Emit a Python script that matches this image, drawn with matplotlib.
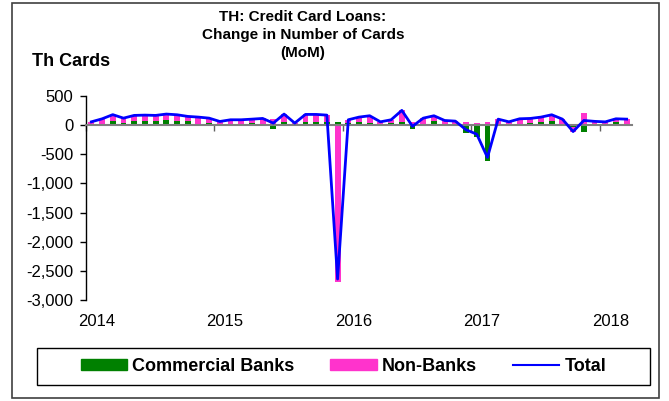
import numpy as np
import matplotlib.pyplot as plt
from matplotlib.patches import Rectangle, Patch
from matplotlib.lines import Line2D

plt.rcParams['font.family'] = ['Liberation Sans', 'DejaVu Sans']

# Données mensuelles, janv. 2014 -> mars 2018 (milliers de cartes)
commercial = [10, 23, 75, 45, 75, 63, 63, 80, 63, 70, 23, 29,
              5, 5, 5, 29, 23, -63, 46, 23, 46, 57, 46, 57,
              35, 46, 35, 23, 35, 46, -69, 23, 69, 6, 6, -130,
              -195, -610, 23, 5, 23, 35, 46, 75, 17, -25, -120, 10,
              6, 46, 23]
non_banks = [47, 85, 105, 75, 92, 109, 104, 110, 115, 80, 115, 91,
             58, 87, 87, 74, 92, 98, 144, 12, 138, 127, 126, -2697,
             57, 92, 126, 34, 57, 207, 49, 97, 92, 74, 63, 50,
             40, 55, 80, 52, 86, 80, 92, 103, 86, -85, 200, 55,
             50, 63, 80]
total = [57, 108, 180, 120, 167, 172, 167, 190, 178, 150, 138, 120,
         63, 92, 92, 103, 115, 35, 190, 35, 184, 184, 172, -2640,
         92, 138, 161, 57, 92, 253, -20, 120, 161, 80, 69, -80,
         -155, -555, 103, 57, 109, 115, 138, 178, 103, -110, 80, 65,
         56, 109, 103]

years = ['2014', '2015', '2016', '2017', '2018']
yticks = [500, 0, -500, -1000, -1500, -2000, -2500, -3000]
ytick_labels = ['500', '0', '-500', '-1,000', '-1,500', '-2,000', '-2,500', '-3,000']

green = '#008000'
pink = '#FF33CC'
blue = '#0000FF'

fig = plt.figure(figsize=(6.69, 4.01), dpi=100)
ax = fig.add_axes([86/669, 1 - 300/401, (632 - 86)/669, (300 - 96)/401])

n = len(total)
x = np.arange(n) + 0.5
g = np.array(commercial, dtype=float)
p = np.array(non_banks, dtype=float)
p_bottom = np.where(np.sign(p) == np.sign(g), g, 0)

ax.bar(x, g, width=0.55, color=green, zorder=2)
ax.bar(x, p, width=0.55, bottom=p_bottom, color=pink, zorder=2)
ax.plot(x, total, color=blue, lw=2, zorder=4)

ax.set_xlim(0, n)
ax.set_ylim(-3000, 500)

for s in ['top', 'right']:
    ax.spines[s].set_visible(False)
ax.spines['left'].set_linewidth(1)
ax.spines['bottom'].set_position(('data', 0))
ax.spines['bottom'].set_color('#808080')
ax.spines['bottom'].set_linewidth(1.5)
ax.spines['bottom'].set_zorder(3)

ax.set_xticks([12 * k for k in range(len(years))])
ax.set_xticklabels([])
ax.tick_params(axis='x', direction='out', length=4, color='#606060', width=1)

ax.set_yticks(yticks)
ax.set_yticklabels(ytick_labels, fontsize=12)
ax.tick_params(axis='y', direction='out', length=4, width=1, pad=5)

sec = ax.secondary_xaxis('bottom')
sec.set_xticks([12 * k + 1.0 for k in range(len(years))])
sec.set_xticklabels(years, fontsize=12)
sec.tick_params(length=0, pad=10)
sec.spines['bottom'].set_visible(False)

# Titre et unité
fig.text(303/669, 1 - 35/401, 'TH: Credit Card Loans:\nChange in Number of Cards\n(MoM)',
         ha='center', va='center', fontsize=11, fontweight='bold', linespacing=1.32)
fig.text(32/669, 1 - 61/401, 'Th Cards', ha='left', va='center',
         fontsize=13, fontweight='bold')

# Cadre extérieur
fig.patches.append(Rectangle((12/669, 3/401), 647/669, 395/401, transform=fig.transFigure,
                             fill=False, edgecolor='#404040', lw=1.2))

# Légende
lx0, ly0, lw_, lh = 37/669, (401 - 385)/401, 613/669, 37/401
fig.patches.append(Rectangle((lx0, ly0), lw_, lh, transform=fig.transFigure,
                             fill=False, edgecolor='black', lw=1))
handles = [Patch(color=green), Patch(color=pink), Line2D([], [], color=blue, lw=1.5)]
fig.legend(handles, ['Commercial Banks', 'Non-Banks', 'Total'], loc='center',
           bbox_to_anchor=(lx0 + lw_/2, ly0 + lh/2), ncol=3, frameon=False,
           prop={'weight': 'bold', 'size': 13}, handlelength=2.55, handleheight=0.55,
           handletextpad=0.3, columnspacing=2.0)

fig.savefig('out.png', dpi=100)
